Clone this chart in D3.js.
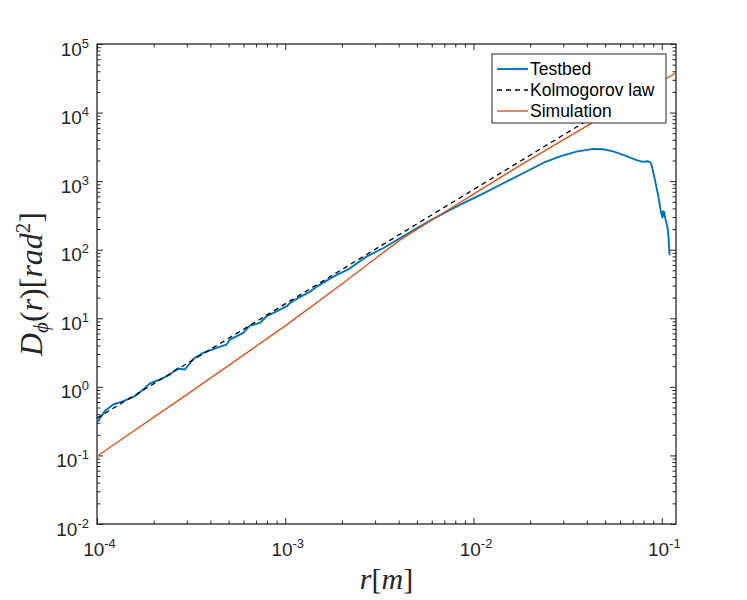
<!DOCTYPE html>
<html>
<head>
<meta charset="utf-8">
<script src="https://cdn.jsdelivr.net/npm/d3@7"></script>
<style>
  body { margin: 0; background: #fff; }
  .tick text { font-family: "Liberation Sans", Arial, sans-serif; fill: #262626; }
  .domain { stroke: none; }
</style>
</head>
<body>
<div id="main"></div>
<script>
const ctx = { w: 747, h: 600, left: 97, right: 676, top: 44, bottom: 524 };

// Testbed structure function
const rTestbed = [1.00e-4, 1.10e-4, 1.22e-4, 1.38e-4, 1.59e-4, 1.76e-4, 1.91e-4, 2.16e-4, 2.44e-4, 2.67e-4,
  2.93e-4, 3.25e-4, 3.67e-4, 4.32e-4, 4.68e-4, 4.88e-4, 5.08e-4, 5.98e-4, 6.50e-4, 7.35e-4,
  7.96e-4, 8.99e-4, 1.02e-3, 1.06e-3, 1.20e-3, 1.32e-3, 1.47e-3, 1.80e-3, 2.21e-3, 2.70e-3,
  3.31e-3, 4.06e-3, 4.99e-3, 6.11e-3, 7.50e-3, 9.18e-3, 1.13e-2, 1.38e-2, 1.76e-2, 2.34e-2,
  2.88e-2, 3.52e-2, 4.33e-2, 4.89e-2, 5.52e-2, 6.50e-2, 7.35e-2, 7.96e-2, 8.41e-2, 8.65e-2,
  8.81e-2, 9.18e-2, 9.57e-2, 9.84e-2, 0.1000, 0.1009, 0.1016, 0.1023, 0.1030, 0.1040,
  0.1048, 0.1072, 0.1088, 0.1100];
const dTestbed = [0.299, 0.443, 0.553, 0.618, 0.731, 0.914, 1.12, 1.28, 1.51, 1.85,
  1.79, 2.56, 3.13, 3.70, 3.98, 4.14, 4.89, 6.11, 7.82, 8.55,
  10.7, 12.6, 15.0, 16.7, 20.5, 23.4, 28.9, 40.5, 53.5, 79.3,
  105, 147, 205, 281, 379, 502, 665, 879, 1230, 1840,
  2300, 2690, 2950, 2920, 2720, 2320, 2020, 1910, 1950, 1900,
  1760, 1070, 615, 394, 316, 295, 363, 316, 355, 302,
  275, 213, 145, 83];

// Kolmogorov law (straight line in log-log)
const rKolmogorov = [1e-4, 1e-3, 1e-2, 1e-1];
const dKolmogorov = [0.35, 16.2, 754, 35000];

// Simulation
const rSimulation = [1.00e-4, 3.16e-4, 1.00e-3, 2.00e-3, 3.16e-3, 4.06e-3, 6.31e-3,
  1.00e-2, 1.76e-2, 4.33e-2, 0.119];
const dSimulation = [0.0973, 0.851, 7.76, 31.6, 82.2, 138, 295,
  646, 1680, 7240, 38100];

const xTickVals = [1e-4, 1e-3, 1e-2, 1e-1];
const xTickExp = ["-4", "-3", "-2", "-1"];
const yTickVals = [1e-2, 1e-1, 1e0, 1e1, 1e2, 1e3, 1e4, 1e5];
const yTickExp = ["-2", "-1", "0", "1", "2", "3", "4", "5"];

const seriesNames = ["Testbed", "Kolmogorov law", "Simulation"];
const seriesColors = ["#0072BD", "#000000", "#D95319"];

function supLabel(sel, exps, vals) {
  sel.each(function(d) {
    const t = d3.select(this);
    t.text(null);
    t.append("tspan").text("10");
    t.append("tspan").attr("dy", -8).attr("font-size", 13).text(exps[vals.indexOf(d)]);
  });
}

function createViz() {
  const svg = d3.select("#main").append("svg").attr("width", ctx.w).attr("height", ctx.h);
  const xScale = d3.scaleLog().domain([1e-4, 0.119]).range([ctx.left, ctx.right]);
  const yScale = d3.scaleLog().domain([1e-2, 1e5]).range([ctx.bottom, ctx.top]);
  const xMinor = xScale.ticks().filter(v => !xTickVals.some(m => Math.abs(m - v) / m < 1e-6));
  const yMinor = yScale.ticks().filter(v => !yTickVals.some(m => Math.abs(m - v) / m < 1e-6));

  svg.append("defs").append("clipPath").attr("id", "clip")
    .append("rect").attr("x", ctx.left).attr("y", ctx.top)
    .attr("width", ctx.right - ctx.left).attr("height", ctx.bottom - ctx.top);

  const bkg = svg.append("g");
  // minor ticks on four sides
  const minorStyle = g => g.selectAll("line").attr("stroke", "#262626").attr("stroke-width", 1);
  bkg.append("g").attr("transform", `translate(0,${ctx.bottom})`)
    .call(d3.axisBottom(xScale).tickValues(xMinor).tickSize(-3.5).tickFormat("")).call(minorStyle);
  bkg.append("g").attr("transform", `translate(0,${ctx.top})`)
    .call(d3.axisTop(xScale).tickValues(xMinor).tickSize(-3.5).tickFormat("")).call(minorStyle);
  bkg.append("g").attr("transform", `translate(${ctx.left},0)`)
    .call(d3.axisLeft(yScale).tickValues(yMinor).tickSize(-3.5).tickFormat("")).call(minorStyle);
  bkg.append("g").attr("transform", `translate(${ctx.right},0)`)
    .call(d3.axisRight(yScale).tickValues(yMinor).tickSize(-3.5).tickFormat("")).call(minorStyle);

  // major ticks with labels
  const xAx = bkg.append("g").attr("transform", `translate(0,${ctx.bottom})`)
    .call(d3.axisBottom(xScale).tickValues(xTickVals).tickSize(-6).tickPadding(0));
  xAx.selectAll("text").attr("font-size", 19).attr("y", 32).attr("dy", 0)
    .attr("dx", 2).call(supLabel, xTickExp, xTickVals);
  const yAx = bkg.append("g").attr("transform", `translate(${ctx.left},0)`)
    .call(d3.axisLeft(yScale).tickValues(yTickVals).tickSize(-6).tickPadding(8));
  yAx.selectAll("text").attr("font-size", 19).attr("dy", 11).call(supLabel, yTickExp, yTickVals);
  bkg.append("g").attr("transform", `translate(0,${ctx.top})`)
    .call(d3.axisTop(xScale).tickValues(xTickVals).tickSize(-6).tickFormat(""));
  bkg.append("g").attr("transform", `translate(${ctx.right},0)`)
    .call(d3.axisRight(yScale).tickValues(yTickVals).tickSize(-6).tickFormat(""));
  bkg.selectAll(".tick line").attr("stroke", "#262626").attr("stroke-width", 1);

  // box
  bkg.append("rect").attr("x", ctx.left).attr("y", ctx.top)
    .attr("width", ctx.right - ctx.left).attr("height", ctx.bottom - ctx.top)
    .attr("fill", "none").attr("stroke", "#262626").attr("stroke-width", 1.3);

  // axis labels
  const xl = svg.append("text").attr("x", (ctx.left + ctx.right) / 2).attr("y", 589)
    .attr("text-anchor", "middle").attr("font-family", "'Liberation Serif', serif")
    .attr("font-size", 30).attr("fill", "#262626");
  xl.append("tspan").attr("font-style", "italic").text("r");
  xl.append("tspan").text("[");
  xl.append("tspan").attr("font-style", "italic").text("m");
  xl.append("tspan").text("]");

  const yl = svg.append("text").attr("transform", `translate(42,${(ctx.top + ctx.bottom) / 2}) rotate(-90)`)
    .attr("text-anchor", "middle").attr("font-family", "'Liberation Serif', serif")
    .attr("font-size", 32).attr("fill", "#262626");
  yl.append("tspan").attr("font-style", "italic").text("D");
  yl.append("tspan").attr("font-style", "italic").attr("font-size", 21).attr("dy", 6).text("ϕ");
  yl.append("tspan").attr("dy", -6).text("(");
  yl.append("tspan").attr("font-style", "italic").text("r");
  yl.append("tspan").text(")[");
  yl.append("tspan").attr("font-style", "italic").text("rad");
  yl.append("tspan").attr("font-size", 21).attr("dy", -12).text("2");
  yl.append("tspan").attr("dy", 12).text("]");

  // data lines
  const line = d3.line().x(d => xScale(d[0])).y(d => yScale(d[1]));
  const plotG = svg.append("g").attr("clip-path", "url(#clip)");
  plotG.append("path").datum(d3.zip(rTestbed, dTestbed)).attr("d", line)
    .attr("fill", "none").attr("stroke", seriesColors[0]).attr("stroke-width", 1.9)
    .attr("stroke-linejoin", "round");
  plotG.append("path").datum(d3.zip(rKolmogorov, dKolmogorov)).attr("d", line)
    .attr("fill", "none").attr("stroke", seriesColors[1]).attr("stroke-width", 1.3)
    .attr("stroke-dasharray", "5,4");
  plotG.append("path").datum(d3.zip(rSimulation, dSimulation)).attr("d", line)
    .attr("fill", "none").attr("stroke", seriesColors[2]).attr("stroke-width", 1.4)
    .attr("stroke-linejoin", "round");

  // legend
  const lg = svg.append("g").attr("transform", "translate(492,54)");
  lg.append("rect").attr("width", 174).attr("height", 69)
    .attr("fill", "#fff").attr("stroke", "#262626").attr("stroke-width", 1);
  seriesNames.forEach((name, i) => {
    const y = 15 + i * 21;
    lg.append("line").attr("x1", 5).attr("x2", 36).attr("y1", y).attr("y2", y)
      .attr("stroke", seriesColors[i]).attr("stroke-width", i === 0 ? 1.9 : 1.4)
      .attr("stroke-dasharray", i === 1 ? "5,4" : null);
    lg.append("text").attr("x", 38).attr("y", y + 6)
      .attr("font-family", "'Liberation Sans', Arial, sans-serif").attr("font-size", 17.5)
      .attr("fill", "#000").text(name);
  });
}
createViz();
</script>
</body>
</html>
